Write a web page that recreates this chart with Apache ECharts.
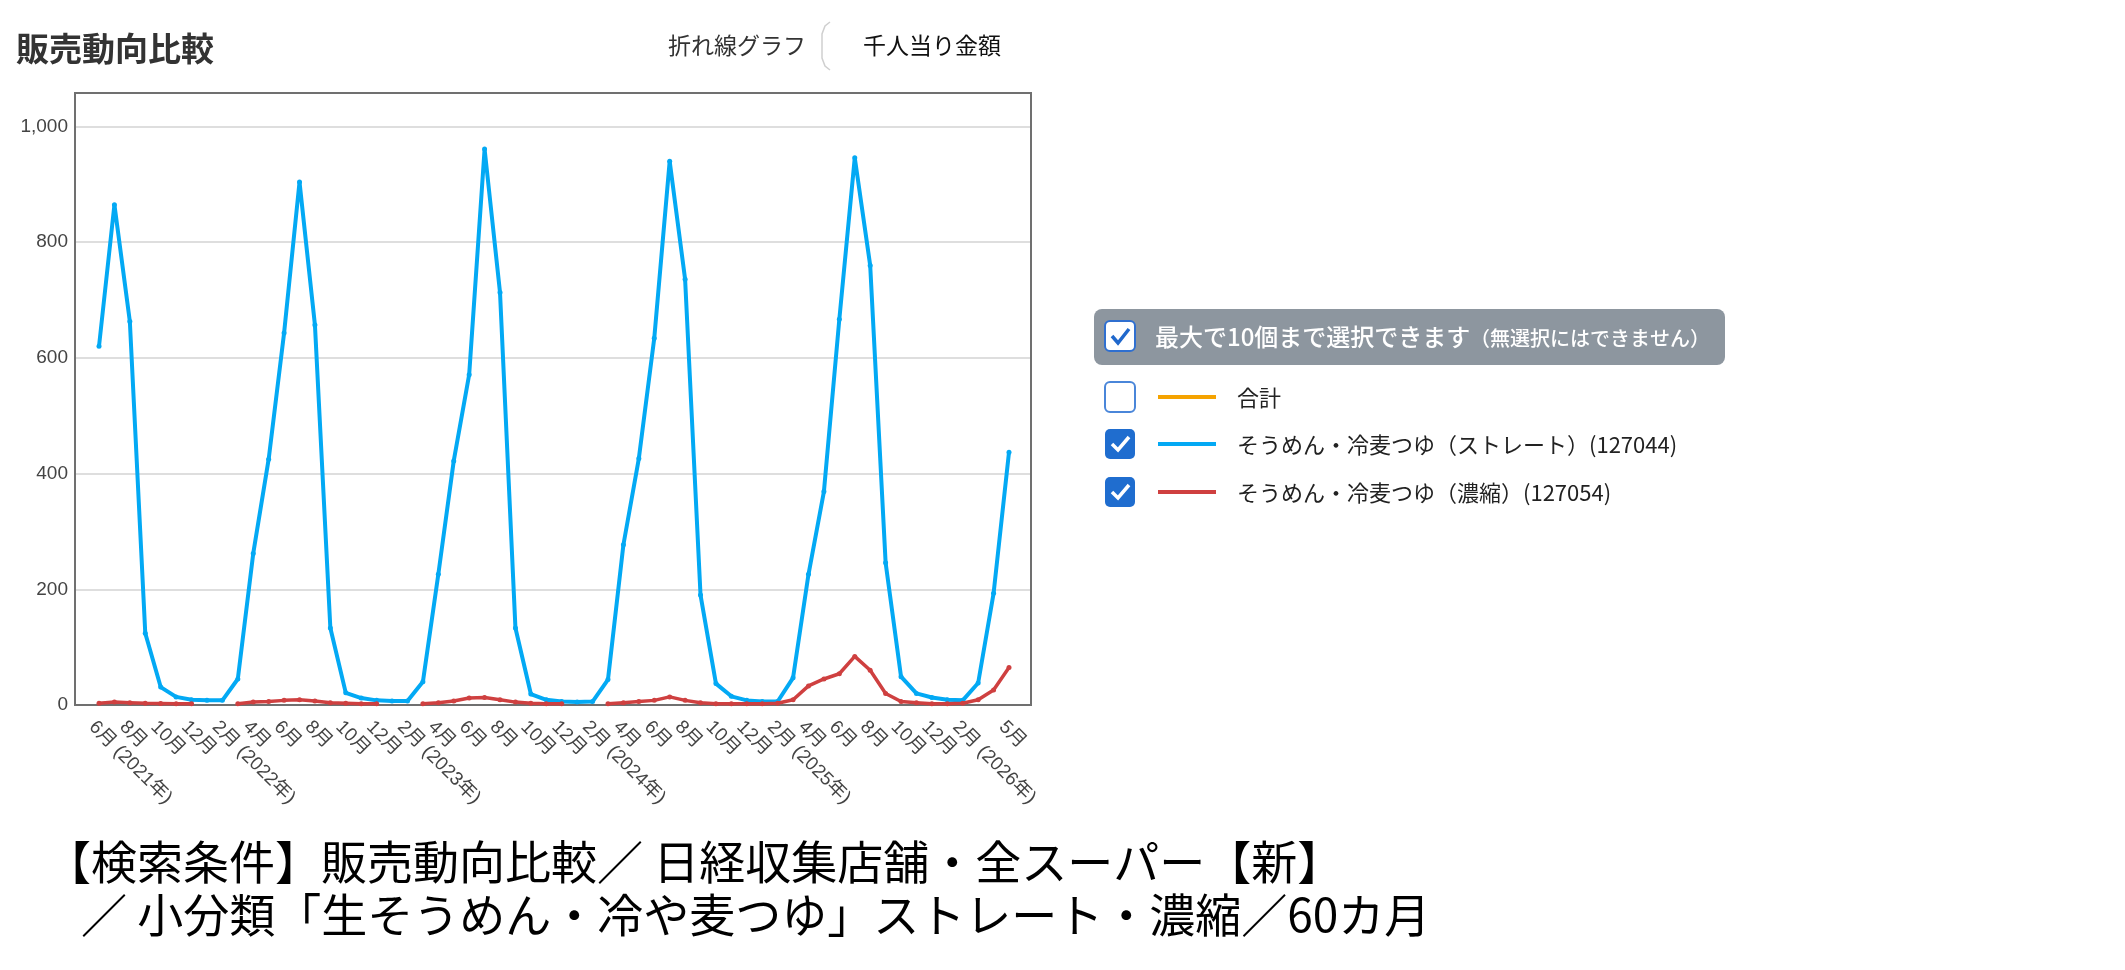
<!DOCTYPE html>
<html>
<head>
<meta charset="utf-8">
<script src="https://cdn.jsdelivr.net/npm/echarts@6/dist/echarts.min.js"></script>
<style>
html,body{margin:0;padding:0;background:#fff;}
#chart{width:2125px;height:970px;}
</style>
</head>
<body>
<div id="chart"></div>
<script>
// ---- data ----
const months = [
  '6月 (2021年)','7月','8月','9月','10月','11月','12月','1月',
  '2月 (2022年)','3月','4月','5月','6月','7月','8月','9月','10月','11月','12月','1月',
  '2月 (2023年)','3月','4月','5月','6月','7月','8月','9月','10月','11月','12月','1月',
  '2月 (2024年)','3月','4月','5月','6月','7月','8月','9月','10月','11月','12月','1月',
  '2月 (2025年)','3月','4月','5月','6月','7月','8月','9月','10月','11月','12月','1月',
  '2月 (2026年)','3月','4月','5月'
];
const straightValues = [
  620, 865, 663, 124, 31, 14, 9, 8,
  8, 45, 262, 425, 643, 904, 657, 133, 21, 12, 8, 7,
  7, 40, 226, 422, 571, 961, 713, 133, 19, 9, 6, 5,
  6, 44, 277, 426, 634, 940, 736, 190, 37, 15, 8, 6,
  6, 47, 226, 369, 667, 946, 760, 246, 49, 20, 13, 9,
  8, 38, 193, 437
];
const concentratedValues = [
  3, 5, 4, 3, 2.5, 2, 2, null,
  null, 2, 5, 6, 8, 9, 7, 4, 3, 2, 2, null,
  null, 2, 4, 7, 12, 13, 9, 5, 3, 2, 2, null,
  null, 2, 4, 6, 8, 14, 8, 4, 2, 2, 2, 2,
  3, 9, 33, 45, 54, 84, 60, 20, 6, 4, 2, 2,
  3, 9, 26, 65
];
const seriesNames = ['合計', 'そうめん・冷麦つゆ（ストレート）(127044)', 'そうめん・冷麦つゆ（濃縮）(127054)'];
const seriesColors = ['#f5a300', '#03a9f4', '#cf4040'];
const seriesChecked = [false, true, true];
const yTicks = [0, 200, 400, 600, 800, 1000];

const CJK = "'Noto Sans CJK JP', sans-serif";
const LAT = "'Liberation Sans', 'Noto Sans CJK JP', sans-serif";

const chart = echarts.init(document.getElementById('chart'), null, {renderer: 'canvas'});

// legend graphics
const legendGraphics = [];
legendGraphics.push({type: 'rect', shape: {x: 1094, y: 309, width: 631, height: 56, r: 8}, style: {fill: '#8d969f'}});
legendGraphics.push({type: 'rect', shape: {x: 1105, y: 321, width: 30, height: 30, r: 5}, style: {fill: '#fff', stroke: '#2f6fd0', lineWidth: 2}});
legendGraphics.push({type: 'polyline', shape: {points: [[1112, 336], [1118, 343], [1129, 329]]}, style: {stroke: '#2068cc', lineWidth: 3.5, fill: null}});
legendGraphics.push({type: 'text', style: {x: 1155, y: 337, text: '最大で10個まで選択できます', font: '500 24px ' + CJK, fill: '#fff', verticalAlign: 'middle'}});
legendGraphics.push({type: 'text', style: {x: 1470, y: 338, text: '（無選択にはできません）', font: '500 20px ' + CJK, fill: '#fff', verticalAlign: 'middle'}});
const rowY = [397, 444, 492];
seriesNames.forEach((name, i) => {
  const y = rowY[i];
  if (seriesChecked[i]) {
    legendGraphics.push({type: 'rect', shape: {x: 1105, y: y - 15, width: 30, height: 30, r: 5}, style: {fill: '#1f6dcf'}});
    legendGraphics.push({type: 'polyline', shape: {points: [[1112, y], [1118, y + 6], [1129, y - 7]]}, style: {stroke: '#fff', lineWidth: 3.5, fill: null}});
  } else {
    legendGraphics.push({type: 'rect', shape: {x: 1105, y: y - 15, width: 30, height: 30, r: 5}, style: {fill: '#fff', stroke: '#4a86d9', lineWidth: 2}});
  }
  legendGraphics.push({type: 'line', shape: {x1: 1158, y1: y, x2: 1216, y2: y}, style: {stroke: seriesColors[i], lineWidth: 4}});
  legendGraphics.push({type: 'text', style: {x: 1237, y: y + 1, text: name, font: '22px ' + CJK, fill: '#222', verticalAlign: 'middle'}});
});

const option = {
  animation: false,
  backgroundColor: '#fff',
  grid: [
    {left: 75, right: 1094, top: 93, bottom: 265},
    {left: 99, right: 1116, top: 93, bottom: 265}
  ],
  xAxis: [
    {gridIndex: 0, type: 'value', min: 0, max: 1, show: false},
    {
      gridIndex: 1, type: 'category', data: months, boundaryGap: false,
      axisLine: {show: false}, axisTick: {show: false}, splitLine: {show: false},
      axisLabel: {
        rotate: -45, margin: 12, verticalAlign: 'top', lineHeight: 20,
        fontSize: 19, color: '#444', fontFamily: LAT,
        showMinLabel: true, showMaxLabel: true, hideOverlap: false,
        interval: (i) => (i % 2 === 0 && i !== 58) || i === 59
      }
    }
  ],
  yAxis: [
    {
      gridIndex: 0, type: 'value', min: 0, max: 1058, interval: 200,
      axisLine: {show: false}, axisTick: {show: false},
      splitLine: {lineStyle: {color: '#dedede', width: 2}},
      axisLabel: {
        showMaxLabel: false, margin: 7, fontSize: 19, color: '#444', fontFamily: LAT,
        formatter: (v) => yTicks.indexOf(v) >= 0 ? v.toLocaleString('en-US') : ''
      }
    },
    {gridIndex: 1, type: 'value', min: 0, max: 1058, show: false, splitLine: {show: false}}
  ],
  series: [
    {
      name: seriesNames[1], type: 'line', xAxisIndex: 1, yAxisIndex: 1, data: straightValues,
      color: seriesColors[1], lineStyle: {width: 4}, symbol: 'circle', symbolSize: 5, showSymbol: true,
      itemStyle: {color: seriesColors[1]}, z: 3
    },
    {
      name: seriesNames[2], type: 'line', xAxisIndex: 1, yAxisIndex: 1, data: concentratedValues,
      color: seriesColors[2], lineStyle: {width: 3.5}, symbol: 'circle', symbolSize: 5, showSymbol: true,
      itemStyle: {color: seriesColors[2]}, connectNulls: false, z: 4
    }
  ],
  graphic: [
    {type: 'rect', z: 1, shape: {x: 75, y: 93, width: 956, height: 612}, style: {fill: null, stroke: '#707070', lineWidth: 2}},
    {type: 'text', style: {x: 16, y: 48, text: '販売動向比較', font: 'bold 33px ' + CJK, fill: '#333', verticalAlign: 'middle'}},
    {type: 'text', style: {x: 668, y: 45, text: '折れ線グラフ', font: '23px ' + CJK, fill: '#333', verticalAlign: 'middle'}},
    {type: 'polyline', shape: {points: [[830, 22], [825, 26], [822, 34], [822, 58], [825, 66], [830, 70]]}, style: {stroke: '#cfcfcf', lineWidth: 1.5, fill: null}},
    {type: 'text', style: {x: 863, y: 45, text: '千人当り金額', font: '23px ' + CJK, fill: '#111', verticalAlign: 'middle'}},
    ...legendGraphics,
    {type: 'text', style: {x: 45, y: 862, text: '【検索条件】販売動向比較／ 日経収集店舗・全スーパー【新】', font: '46px ' + CJK, fill: '#000', verticalAlign: 'middle'}},
    {type: 'text', style: {x: 81, y: 915, text: '／ 小分類「生そうめん・冷や麦つゆ」ストレート・濃縮／60カ月', font: '46px ' + CJK, fill: '#000', verticalAlign: 'middle'}}
  ]
};
chart.setOption(option);
</script>
</body>
</html>
